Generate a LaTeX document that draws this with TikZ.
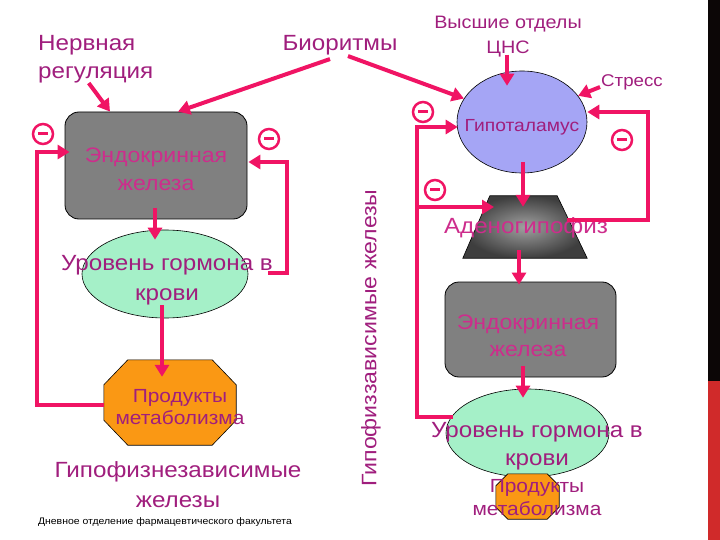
\documentclass[tikz,border=0pt]{standalone}
\usepackage{fontspec}
\setmainfont[FakeStretch=1.1]{Liberation Sans}
\usetikzlibrary{arrows.meta,shapes.geometric,calc}
\definecolor{textc}{RGB}{160,30,125}
\definecolor{boxtext}{RGB}{205,45,140}
\definecolor{arrc}{RGB}{240,20,100}
\definecolor{mint}{RGB}{165,240,200}
\definecolor{lav}{RGB}{165,165,245}
\definecolor{orng}{RGB}{250,152,20}
\definecolor{grayfill}{RGB}{128,128,128}
\definecolor{redbar}{RGB}{208,42,42}
\definecolor{darkbar}{RGB}{12,6,6}
\definecolor{trapin}{RGB}{160,160,160}
\definecolor{trapout}{RGB}{62,62,62}
\newcommand{\myoct}[3]{($(#1.north west)+(#2,0)$) -- ($(#1.north east)+(-#2,0)$) -- ($(#1.north east)+(0,#3)$) -- ($(#1.south east)+(0,-#3)$) -- ($(#1.south east)+(-#2,0)$) -- ($(#1.south west)+(#2,0)$) -- ($(#1.south west)+(0,-#3)$) -- ($(#1.north west)+(0,#3)$) -- cycle}
\begin{document}
\begin{tikzpicture}[x=1pt,y=-1pt,
  lbl/.style={inner sep=0pt, align=center, text=textc},
  arr/.style={draw=arrc, line width=4pt, -{Triangle[length=12pt,width=14pt]}},
  gland/.style={draw=black, line width=0.8pt, fill=grayfill, rounded corners=14pt, rectangle, inner sep=0pt},
  level/.style={draw=black, line width=0.6pt, fill=mint, ellipse, inner sep=0pt},
  frame/.style={inner sep=0pt, draw=none},
  bar/.style={inner sep=0pt, outer sep=0pt, draw=none, minimum width=12pt, anchor=north west},
  minus/.style={circle, draw=arrc, line width=2.5pt, minimum size=20pt, inner sep=0pt,
    path picture={\draw[arrc, line width=3pt] ($(path picture bounding box.center)+(-5,0)$) -- ($(path picture bounding box.center)+(5,0)$);}},
]
\useasboundingbox (0,0) rectangle (720,540);

% slide edge bars
\node[bar, fill=darkbar, minimum height=382pt] (topbar) at (708,0) {};
\node[bar, fill=redbar, minimum height=159pt] (lowbar) at (708,381) {};

% top labels
\node[lbl, align=left, anchor=west, font=\fontsize{22}{28}\selectfont] (nerv) at (38,59) {Нервная\\регуляция};
\node[lbl, font=\fontsize{22}{26}\selectfont] (bio) at (340,45) {Биоритмы};
\node[lbl, font=\fontsize{18}{25}\selectfont] (cns) at (508,37) {Высшие отделы\\ЦНС};
\node[lbl, font=\fontsize{17}{20}\selectfont] (stress) at (632,82) {Стресс};

% left column shapes
\node[gland, minimum width=182pt, minimum height=107pt] (endoL) at (156,165.5) {};
\node[lbl, text=boxtext, font=\fontsize{21}{28}\selectfont] (endoLt) at (156,169) {Эндокринная\\железа};
\node[level, minimum width=166pt, minimum height=88pt] (lvlL) at (165,274) {};
\node[lbl, font=\fontsize{22}{30}\selectfont] (lvlLt) at (167,280) {Уровень гормона в\\крови};
\node[frame, minimum width=132pt, minimum height=85pt] (octL) at (170,402.5) {};
\filldraw[fill=orng, draw=black, line width=0.6pt] \myoct{octL}{24}{25};
\node[lbl, font=\fontsize{19}{22}\selectfont] (octLt) at (180,407) {Продукты\\метаболизма};
\node[lbl, font=\fontsize{22}{30}\selectfont] (indep) at (178,485) {Гипофизнезависимые\\железы};
\node[inner sep=0pt, font=\fontsize{9.5}{11}\selectfont] (foot) at (165,522) {Дневное отделение фармацевтического факультета};

% middle rotated label
\node[lbl, rotate=90, font=\fontsize{21}{24}\selectfont] (dep) at (371,338) {Гипофиззависимые железы};

% right column shapes
\node[ellipse, draw=black, line width=0.6pt, fill=lav, minimum width=130pt, minimum height=102pt, inner sep=0pt] (hyp) at (522,122) {};
\node[lbl, font=\fontsize{17.5}{20}\selectfont] (hypt) at (522,127) {Гипоталамус};
\node[frame, minimum width=124pt, minimum height=62pt] (trap) at (525,227) {};
\shadedraw[inner color=trapin, outer color=trapout, draw=black, line width=0.6pt]
  ($(trap.north west)+(27,0)$) -- ($(trap.north east)+(-30,0)$) -- (trap.south east) -- (trap.south west) -- cycle;
\node[lbl, text=boxtext, font=\fontsize{22}{24}\selectfont] (trapt) at (526,228) {Аденогипофиз};
\node[gland, minimum width=171pt, minimum height=95pt] (endoR) at (530.5,329.5) {};
\node[lbl, text=boxtext, font=\fontsize{21}{27}\selectfont] (endoRt) at (528,335.5) {Эндокринная\\железа};
\node[level, minimum width=163pt, minimum height=88pt] (lvlR) at (527.5,433) {};
\node[lbl, font=\fontsize{22}{28}\selectfont] (lvlRt) at (537,446) {Уровень гормона в\\крови};
\node[frame, minimum width=63pt, minimum height=45pt] (octR) at (527.5,496.5) {};
\filldraw[fill=orng, draw=black, line width=0.6pt] \myoct{octR}{12}{12};
\node[lbl, font=\fontsize{19}{23}\selectfont] (octRt) at (537,498) {Продукты\\метаболизма};

% minus signs
\node[minus] (m1) at (43,134) {};
\node[minus] (m2) at (269,139) {};
\node[minus] (m3) at (423,112) {};
\node[minus] (m4) at (435,190) {};
\node[minus] (m5) at (622,140) {};

% arrows
\draw[arr] ($(nerv.south)+(-7,0)$) -- ($(endoL.north)+(-46,0)$);
\draw[arr] ($(bio.south)+(-10,4)$) -- ($(endoL.north)+(22,0)$);
\draw[arr] ($(bio.south)+(8,1)$) -- (hyp.158);
\draw[arr] ($(cns.south)+(-1,-3)$) -- ($(hyp.north)+(-15,15)$);
\draw[arr] ($(stress.west)+(-1,5)$) -- (hyp.25);
\draw[arr] ($(hyp.south)+(1,-11)$) -- ($(trap.north)+(-2,11)$);
\draw[arr] ($(trap.south)+(-6,-8)$) -- ($(endoR.north)+(-11.5,3)$);
\draw[arr] ($(endoR.south)+(-7.5,-11)$) -- ($(lvlR.north)+(-4.5,9)$);
\draw[arr] ($(endoL.south)+(-1,-11)$) -- ($(lvlL.north)+(-10,10)$);
\draw[arr] ($(lvlL.south)+(-3,-13)$) -- ($(octL.north)+(-8,17)$);
% feedback loops left
\draw[arr] ($(octL.west)+(0,2.5)$) -| ($(endoL.west)+(-28,-13.5)$) -- ($(endoL.west)+(5,-13.5)$);
\draw[arr] ($(lvlL.east)+(20,-1)$) -| ($(endoL.east)+(40,-3.5)$) -- ($(endoL.east)+(1,-3.5)$);
% feedback loops right
\draw[arr] ($(lvlR.center)+(-75,-16)$) -| ($(hyp.west)+(-40,5)$) -- ($(hyp.west)+(1,5)$);
\draw[arr] ($(hyp.west)+(-40,85)$) -- ($(trap.center)+(-31,-20)$);
\draw[arr] ($(trap.center)+(42,-7)$) -| ($(hyp.east)+(61,-10)$) -- ($(hyp.east)+(0,-10)$);
\end{tikzpicture}
\end{document}
